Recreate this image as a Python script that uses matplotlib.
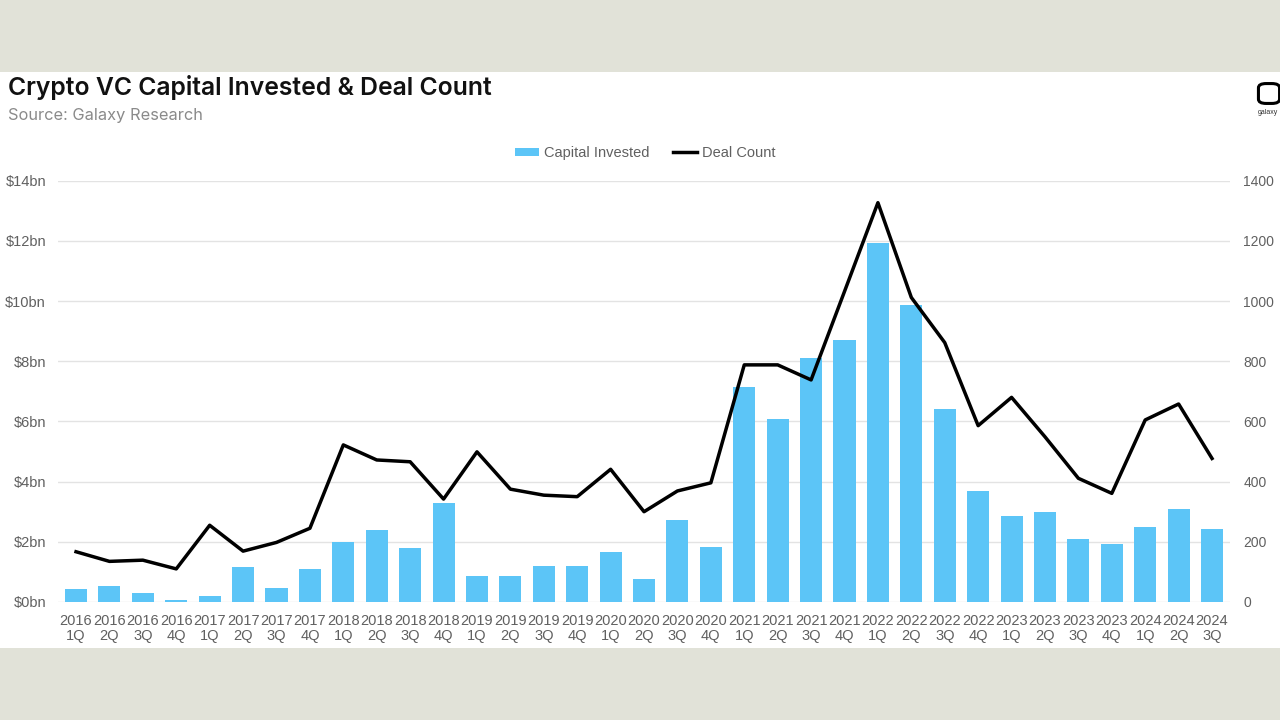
import matplotlib
matplotlib.use("Agg")
import matplotlib.pyplot as plt
from matplotlib.patches import Rectangle, FancyBboxPatch
import numpy as np

# quarters 2016 1Q .. 2024 3Q
years = ['2016'] * 4 + ['2017'] * 4 + ['2018'] * 4 + ['2019'] * 4 + ['2020'] * 4 + \
        ['2021'] * 4 + ['2022'] * 4 + ['2023'] * 4 + ['2024'] * 3
quarters = ['1Q', '2Q', '3Q', '4Q'] * 8 + ['1Q', '2Q', '3Q']

# capital invested, $bn
capital = [0.43, 0.52, 0.31, 0.07, 0.21, 1.17, 0.48, 1.09,
           1.98, 2.38, 1.80, 3.28, 0.86, 0.86, 1.20, 1.20,
           1.65, 0.75, 2.72, 1.82, 7.15, 6.08, 8.12, 8.71,
           11.92, 9.87, 6.42, 3.69, 2.86, 2.98, 2.08, 1.92,
           2.50, 3.08, 2.42]

# deal count
deals = [167, 135, 139, 110, 255, 169, 198, 245,
         522, 472, 466, 342, 499, 375, 355, 350,
         441, 300, 369, 396, 788, 788, 738, 1032,
         1327, 1012, 862, 586, 680, 549, 411, 361,
         605, 658, 477]

labels = [y + '\n' + q for y, q in zip(years, quarters)]
x = np.arange(len(labels))

plt.rcParams['font.family'] = ['Liberation Sans', 'DejaVu Sans']

fig = plt.figure(figsize=(12.8, 7.2), dpi=100)
fig.patch.set_facecolor('#e1e2d8')
fig.patches.append(Rectangle((0, 0.1), 1, 0.8, transform=fig.transFigure,
                             facecolor='white', edgecolor='none', zorder=-5))

ax = fig.add_axes([0.0453, 0.1639, 0.9157, 0.5851])
ax.set_facecolor('none')
bars = ax.bar(x, capital, width=0.66, color='#5cc5f7', zorder=2, label='Capital Invested')
ax.set_ylim(0, 14)
ax.set_xlim(-0.54, 34.54)
ax.set_yticks(np.arange(0, 15, 2))
ax.set_yticklabels(['$%dbn' % v for v in range(0, 15, 2)])
ax.set_xticks(x)
ax.set_xticklabels(labels, linespacing=1.15)
ax.grid(axis='y', color='#e3e3e3', lw=1, zorder=0)
ax.tick_params(length=0, labelsize=10.5, labelcolor='#606060')
ax.tick_params(axis='y', pad=8.6)
ax.tick_params(axis='x', pad=8.5)
for s in ax.spines.values():
    s.set_visible(False)

ax2 = ax.twinx()
line, = ax2.plot(x, deals, color='black', lw=2.5, zorder=3, label='Deal Count')
ax2.set_ylim(0, 1400)
ax2.set_yticks(np.arange(0, 1401, 200))
ax2.tick_params(length=0, labelsize=10, labelcolor='#606060', pad=9.4)
for s in ax2.spines.values():
    s.set_visible(False)

fig.legend([bars, line], ['Capital Invested', 'Deal Count'], loc='center',
           bbox_to_anchor=(645 / 1280, (720 - 153) / 720), ncol=2, frameon=False,
           fontsize=10.5, labelcolor='#606060', handlelength=1.7, handleheight=0.5,
           columnspacing=1.6, handletextpad=0.3)

fig.text(8 / 1280, (720 - 95) / 720, 'Crypto VC Capital Invested & Deal Count',
         fontsize=17.8, fontweight='semibold', family=['Inter', 'DejaVu Sans'],
         color='#111111', va='baseline', ha='left')
fig.text(8 / 1280, (720 - 120) / 720, 'Source: Galaxy Research',
         fontsize=11.8, family=['Inter', 'DejaVu Sans'], color='#8a8a8a',
         va='baseline', ha='left')

# small galaxy logo at the top right
fig.patches.append(FancyBboxPatch((1261 / 1280, (720 - 102) / 720), 16 / 1280, 17 / 720,
                                  boxstyle='round,pad=0.002,rounding_size=0.006',
                                  transform=fig.transFigure, facecolor='none',
                                  edgecolor='black', lw=2.2))
fig.text(1258 / 1280, (720 - 112) / 720, 'galaxy', fontsize=5, color='#333333',
         va='center', ha='left')

fig.savefig('out.png', dpi=100, facecolor=fig.get_facecolor())
